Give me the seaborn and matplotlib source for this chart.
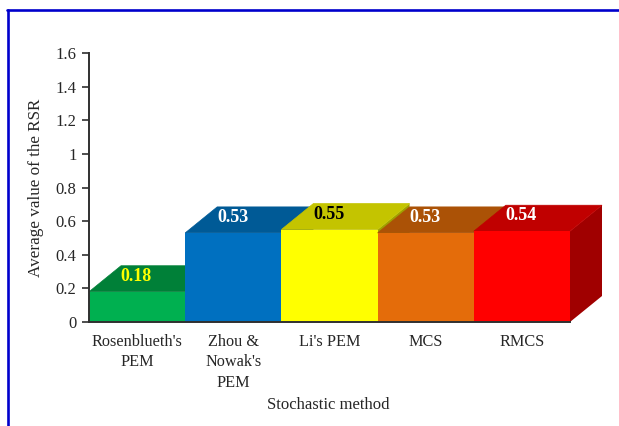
import matplotlib
matplotlib.use("Agg")
import matplotlib.pyplot as plt
from matplotlib.lines import Line2D
from matplotlib.patches import Polygon
import pandas as pd
import seaborn as sns

methods = ["Rosenblueth's\nPEM", "Zhou &\nNowak's\nPEM", "Li's PEM", "MCS", "RMCS"]
rsr_values = [0.18, 0.53, 0.55, 0.53, 0.54]
front_colors = ["#00b050", "#0070c0", "#ffff00", "#e46c0a", "#ff0000"]
top_colors = ["#008038", "#005a96", "#c4c400", "#ab5206", "#c00000"]
side_colors = ["#006a2e", "#004a7c", "#a0a000", "#8c4305", "#a00000"]
label_colors = ["#ffff00", "#ffffff", "#000000", "#ffffff", "#ffffff"]
y_ticks = [0, 0.2, 0.4, 0.6, 0.8, 1, 1.2, 1.4, 1.6]
y_tick_labels = ["0", "0.2", "0.4", "0.6", "0.8", "1", "1.2", "1.4", "1.6"]

W, H = 619, 426
AX_LEFT, AX_RIGHT, AX_TOP, AX_BOTTOM = 89, 570, 53, 322
DEPTH_X_PX, DEPTH_Y_PX = 32, 26
SERIF = "Liberation Serif"
TEXT = "#262626"
AXIS = "#303030"

sns.set_theme(style="white")
plt.rcParams["font.family"] = [SERIF, "DejaVu Sans"]

fig = plt.figure(figsize=(W / 100, H / 100), dpi=100, facecolor="white")
ax = fig.add_axes([AX_LEFT / W, 1 - AX_BOTTOM / H,
                   (AX_RIGHT - AX_LEFT) / W, (AX_BOTTOM - AX_TOP) / H])

df = pd.DataFrame({"method": methods, "rsr": rsr_values})
sns.barplot(data=df, x="method", y="rsr", hue="method", palette=front_colors,
            saturation=1, width=1.0, legend=False, ax=ax, linewidth=0)

ax.set_xlim(-0.5, 4.5)
ax.set_ylim(0, 1.6)
ax.patch.set_alpha(0)

# Extrusion offset expressed in data units so the faces follow the scales
dx = DEPTH_X_PX * 5 / (AX_RIGHT - AX_LEFT)
dy = DEPTH_Y_PX * 1.6 / (AX_BOTTOM - AX_TOP)

# Painter's order, left to right: side, top, then the front face of each block
for i, (bar, value) in enumerate(zip(ax.patches, rsr_values)):
    x0, x1 = bar.get_x(), bar.get_x() + bar.get_width()
    ax.add_patch(Polygon([(x1, 0), (x1 + dx, dy), (x1 + dx, value + dy), (x1, value)],
                         closed=True, fc=side_colors[i], ec="none",
                         clip_on=False, zorder=3 + i * 3))
    ax.add_patch(Polygon([(x0, value), (x0 + dx, value + dy), (x1 + dx, value + dy), (x1, value)],
                         closed=True, fc=top_colors[i], ec=top_colors[i], lw=0.5,
                         clip_on=False, zorder=4 + i * 3))
    bar.set_zorder(5 + i * 3)
    bar.set_clip_on(False)
    ax.annotate(f"{value:.2f}", xy=(i, value), xytext=(-0.5, 11), textcoords="offset points",
                ha="center", va="center", color=label_colors[i], fontsize=13,
                fontweight="bold", family=SERIF, zorder=30, annotation_clip=False)

sns.despine(ax=ax, top=True, right=True)
for side in ("left", "bottom"):
    ax.spines[side].set_color(AXIS)
    ax.spines[side].set_linewidth(1.4)
    ax.spines[side].set_zorder(25)

ax.set_yticks(y_ticks, y_tick_labels)
ax.tick_params(axis="y", length=5, width=1.2, color=AXIS, labelsize=12,
               labelcolor=TEXT, pad=4, left=True)
ax.tick_params(axis="x", length=0, labelsize=11.7, labelcolor=TEXT, pad=8.5)
for label in ax.get_xticklabels():
    label.set_linespacing(1.38)

ax.set_xlabel("")
ax.set_ylabel("")
fig.text(328 / W, 1 - 405 / H, "Stochastic method", ha="center", va="center",
         fontsize=12, color=TEXT)
fig.text(36 / W, 1 - 188 / H, "Average value of the RSR", rotation=90,
         ha="center", va="center", fontsize=12.3, color=TEXT)

# Page border along the top and left edges
fig.add_artist(Line2D([7.5 / W, 7.5 / W], [0, 1 - 9.5 / H], color="#0000cc", lw=1.9))
fig.add_artist(Line2D([6.5 / W, 1], [1 - 9.5 / H, 1 - 9.5 / H], color="#0000cc", lw=1.9))

fig.savefig("out.png", dpi=100, facecolor="white")
